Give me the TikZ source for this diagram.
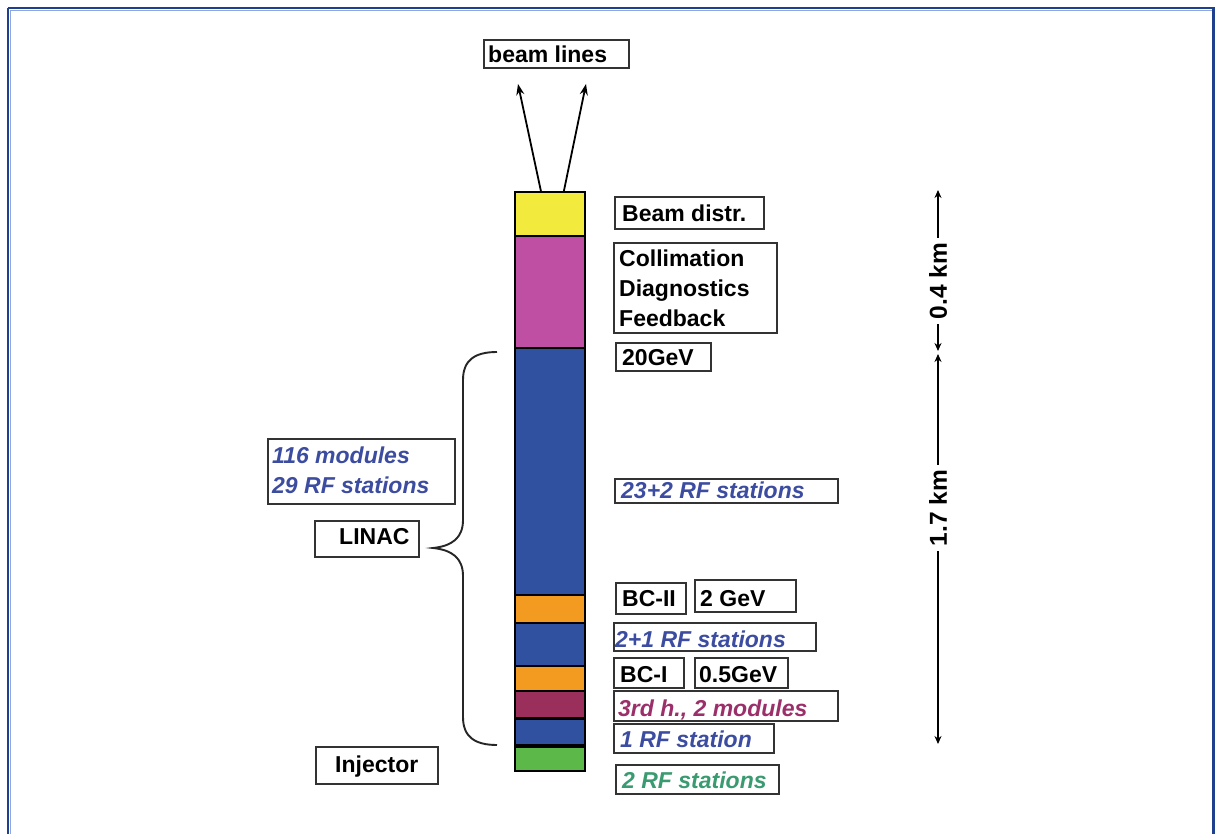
\documentclass[tikz,border=0pt]{standalone}
\usepackage{fontspec}
\setmainfont{Liberation Sans}
\usetikzlibrary{arrows.meta}
\definecolor{frameblue}{HTML}{1F3F8F}
\definecolor{framelight}{HTML}{8FA8D8}
\definecolor{segyellow}{HTML}{F2EA3C}
\definecolor{segmagenta}{HTML}{BF4FA3}
\definecolor{segblue}{HTML}{3050A0}
\definecolor{segorange}{HTML}{F39A20}
\definecolor{segwine}{HTML}{9B2F5C}
\definecolor{seggreen}{HTML}{5CB848}
\definecolor{txtblue}{HTML}{3C4CA0}
\definecolor{txtwine}{HTML}{9B2F6A}
\definecolor{txtgreen}{HTML}{3A9A70}
\tikzset{
  lbox/.style={draw=black!80, line width=1.9pt, inner sep=0pt, anchor=north west},
  txt/.style={inner sep=0pt, anchor=base west, font=\fontsize{23}{27}\selectfont\bfseries},
  itxt/.style={txt, font=\fontsize{23}{27}\selectfont\bfseries\itshape},
  seg/.style={draw=black, line width=1.8pt, inner sep=0pt, minimum width=70pt, anchor=north west},
  arr/.style={line width=1.8pt, -{Stealth[length=11pt,width=8pt]}},
  dim/.style={line width=2.4pt},
  dimarr/.style={dim, -{Stealth[length=8pt,width=7pt]}},
  dimtxt/.style={inner sep=0pt, rotate=90, font=\fontsize{24.5}{28}\selectfont\bfseries}
}
\begin{document}
\begin{tikzpicture}[x=1pt,y=-1pt]
\useasboundingbox (0,0) rectangle (1216,834);
\clip (0,0) rectangle (1216,834);
\fill[white] (0,0) rectangle (1216,834);
% frame
\draw[frameblue, line width=2.6pt] (8,8) -- (1213.5,8) -- (1213.5,860);
\draw[frameblue, line width=2.6pt] (8,8) -- (8,860);
\draw[framelight, line width=0.9pt] (10,10) -- (1211.5,10);
\draw[framelight, line width=0.9pt] (10,10) -- (10,860);

% column segments
\node[seg, fill=segyellow, minimum height=44pt] (yel) at (514,191) {};
\node[seg, fill=segmagenta, minimum height=112pt] (mag) at (514,235) {};
\node[seg, fill=segblue, minimum height=247pt] (lin) at (514,347) {};
\node[seg, fill=segorange, minimum height=28pt] (bc2) at (514,594) {};
\node[seg, fill=segblue, minimum height=43pt] (l2) at (514,622) {};
\node[seg, fill=segorange, minimum height=25pt] (bc1) at (514,665) {};
\node[seg, fill=segwine, minimum height=27pt] (h3) at (514,690) {};
\node[seg, fill=segblue, minimum height=27pt] (l1) at (514,717) {};
\node[seg, fill=seggreen, minimum height=24pt] (inj) at (514,746) {};
\draw[line width=3.5pt] (l1.south west) -- (l1.south east);
\draw[line width=2.6pt] (h3.south west) -- (h3.south east);

% beam lines
\node[lbox, minimum width=145pt, minimum height=28pt] (blbox) at (483,39) {};
\node[txt] (blt) at (488,63) {beam lines};
\coordinate (blL) at (518,84);
\coordinate (blR) at (586,84);
\draw[arr] ([xshift=-9pt]yel.north) -- (blL);
\draw[arr] ([xshift=14pt]yel.north) -- (blR);

% right boxes
\node[lbox, minimum width=149pt, minimum height=32pt] (bdbox) at (614,196) {};
\node[txt] (bdt) at (622,222) {Beam distr.};
\node[lbox, minimum width=163pt, minimum height=90pt] (cbox) at (613,242) {};
\node[txt] (ct1) at (619,267) {Collimation};
\node[txt] (ct2) at (619,297) {Diagnostics};
\node[txt] (ct3) at (619,327) {Feedback};
\node[lbox, minimum width=95pt, minimum height=28pt] (gbox) at (615,342) {};
\node[txt] (gt) at (622,366) {20GeV};
\node[lbox, minimum width=223pt, minimum height=24pt] (rfbox) at (614,478) {};
\node[itxt, text=txtblue] (rft) at (621,498) {23+2 RF stations};
\node[lbox, minimum width=70pt, minimum height=31pt] (bc2box) at (615,582) {};
\node[txt] (bc2t) at (622,606) {BC-II};
\node[lbox, minimum width=101pt, minimum height=32pt] (e2box) at (694,579) {};
\node[txt] (e2t) at (700,606) {2 GeV};
\node[lbox, minimum width=202pt, minimum height=28pt] (rf21box) at (613,622) {};
\node[itxt, text=txtblue] (rf21t) at (615,647) {2+1 RF stations};
\node[lbox, minimum width=70pt, minimum height=30pt] (bc1box) at (613,657) {};
\node[txt] (bc1t) at (620,682) {BC-I};
\node[lbox, minimum width=93pt, minimum height=30pt] (e1box) at (694,657) {};
\node[txt] (e1t) at (699,682) {0.5GeV};
\node[lbox, minimum width=224pt, minimum height=30pt] (h3box) at (613,690) {};
\node[itxt, text=txtwine] (h3t) at (618,716) {3rd h., 2 modules};
\node[lbox, minimum width=160pt, minimum height=29pt] (rf1box) at (613,723) {};
\node[itxt, text=txtblue] (rf1t) at (620,747) {1 RF station};
\node[lbox, minimum width=163pt, minimum height=29pt] (rf2box) at (615,764) {};
\node[itxt, text=txtgreen] (rf2t) at (622,788) {2 RF stations};

% left boxes
\node[lbox, minimum width=187pt, minimum height=65pt] (modbox) at (267,438) {};
\node[itxt, text=txtblue] (modt1) at (272,463) {116 modules};
\node[itxt, text=txtblue] (modt2) at (272,493) {29 RF stations};
\node[lbox, minimum width=104pt, minimum height=36pt] (linbox) at (314,520) {};
\node[txt] (lint) at (339,544) {LINAC};
\node[lbox, minimum width=122pt, minimum height=37pt] (injbox) at (315,746) {};
\node[txt] (injt) at (335,772) {Injector};

% brace
\coordinate (brTop) at (497,352);
\coordinate (brTip) at (433,548);
\coordinate (brBot) at (497,745);
\draw[line width=1.9pt, black!85] (brTop) .. controls (475,352) and (463,360) .. (463,380)
  -- (463,520) .. controls (463,538) and (452,546) .. (brTip)
  .. controls (452,550) and (463,558) .. (463,576)
  -- (463,717) .. controls (463,737) and (475,745) .. (brBot);

% dimension line
\coordinate (d04top) at (938,190);
\coordinate (d04bot) at (938,351);
\coordinate (d17top) at (938,354);
\coordinate (d17bot) at (938,744);
\node[dimtxt] (d04t) at (938,281) {0.4 km};
\node[dimtxt] (d17t) at (938,508) {1.7 km};
\draw[dimarr] ([yshift=5pt]d04t.east) -- (d04top);
\draw[dimarr] ([yshift=-5pt]d04t.west) -- (d04bot);
\draw[dimarr] ([yshift=5pt]d17t.east) -- (d17top);
\draw[dimarr] ([yshift=-5pt]d17t.west) -- (d17bot);
\end{tikzpicture}
\end{document}
